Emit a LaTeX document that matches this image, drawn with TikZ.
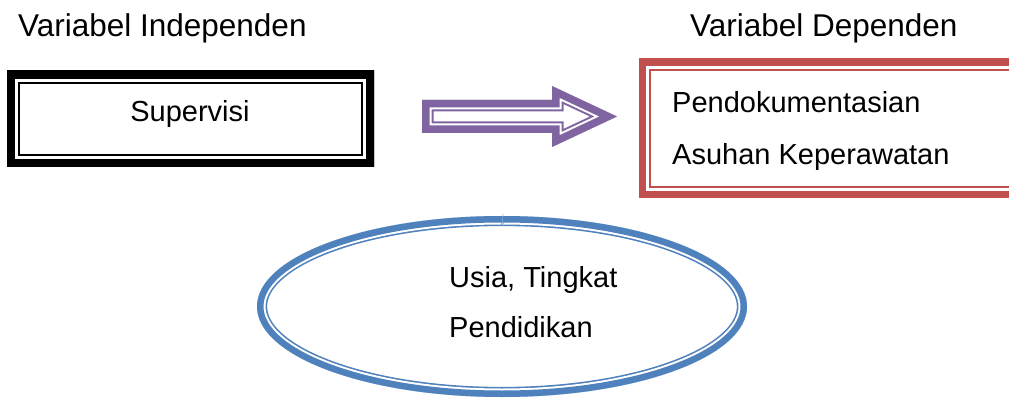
\documentclass[tikz,border=0pt]{standalone}
\usepackage{fontspec}
\setmainfont{Liberation Sans}
\usetikzlibrary{shapes.geometric,arrows.meta}
\definecolor{frameblack}{HTML}{000000}
\definecolor{framered}{HTML}{C0504D}
\definecolor{framepurple}{HTML}{8064A2}
\definecolor{frameblue}{HTML}{4F81BD}
% thick-thin compound outline drawn on the inside of a closed path:
% #1 colour, #2 thick band, #3 gap, #4 thin line, #5 path
\newcommand{\thickthin}[5]{%
  \begin{scope}
    \clip #5;
    \fill[white] #5;
    \draw[#1, line join=miter, line width={2*(#2+#3+#4)}] #5;
    \draw[white, line join=miter, line width={2*(#2+#3)}] #5;
    \draw[#1, line join=miter, line width={2*(#2)}] #5;
  \end{scope}}
\tikzset{
  title/.style={anchor=base west, font=\fontsize{31.5}{36}\selectfont, inner sep=0pt},
  body/.style={font=\fontsize{29}{34}\selectfont, inner sep=0pt},
  area/.style={inner sep=0pt, outer sep=0pt}
}
\begin{document}
\begin{tikzpicture}[x=1pt, y=-1pt]
  \useasboundingbox (0,0) rectangle (1009,398);
  \clip (0,0) rectangle (1009,398);

  % headings
  \node[title] (indep) at (18,37) {Variabel Independen};
  \node[title] (dep) at (690,37) {Variabel Dependen};

  % independent variable box
  \node[area, rectangle, minimum width=367pt, minimum height=96pt] (sup) at (190.5,119) {};
  \thickthin{frameblack}{8pt}{3pt}{1.6pt}{(sup.north west) rectangle (sup.south east)}
  \node[body, anchor=base] (suptxt) at (190,122) {Supervisi};

  % dependent variable box (runs past the right edge)
  \node[area, rectangle, minimum width=391pt, minimum height=139pt] (doc) at (834.5,128.5) {};
  \thickthin{framered}{7pt}{3pt}{1.8pt}{(doc.north west) rectangle (doc.south east)}
  \node[body, anchor=base west] (doc1) at (672,112.3) {Pendokumentasian};
  \node[body, anchor=base west] (doc2) at (672,164.3) {Asuhan Keperawatan};

  % block arrow between the two boxes
  \coordinate (a1) at (422,100);
  \coordinate (a2) at (552,100);
  \coordinate (a3) at (552,86);
  \coordinate (a4) at (617,116.5);
  \coordinate (a5) at (552,147);
  \coordinate (a6) at (552,133);
  \coordinate (a7) at (422,133);
  \thickthin{framepurple}{7.5pt}{2pt}{2pt}{(a1) -- (a2) -- (a3) -- (a4) -- (a5) -- (a6) -- (a7) -- cycle}

  % moderating variables
  \node[area, ellipse, minimum width=471pt, minimum height=161pt] (ell) at (502,306.5) {};
  \thickthin{frameblue}{6.5pt}{2pt}{1.6pt}{(502,306.5) ellipse [x radius=245, y radius=90.5]}
  \node[body, anchor=base west] (ell1) at (449,287.3) {Usia, Tingkat};
  \node[body, anchor=base west] (ell2) at (449,337.7) {Pendidikan};

  % short link into the ellipse
  \coordinate (linktop) at (503,214);
  \draw[frameblue!70, line width=0.6pt, -{Stealth[length=3pt,width=3pt]}] (linktop) -- (ell.north);
\end{tikzpicture}
\end{document}
